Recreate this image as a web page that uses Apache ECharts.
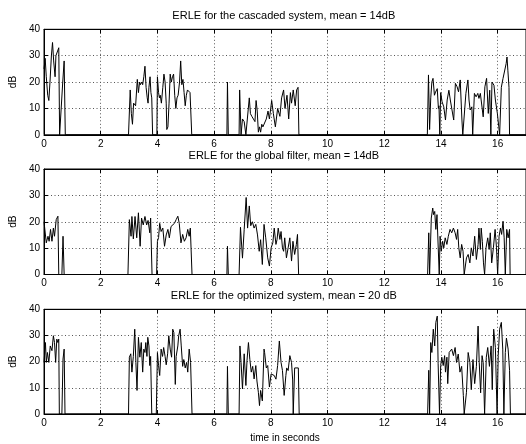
<!DOCTYPE html>
<html>
<head>
<meta charset="utf-8">
<script src="https://cdn.jsdelivr.net/npm/echarts@6/dist/echarts.min.js"></script>
<style>
  html, body { margin: 0; padding: 0; background: #fff; }
  #chart { width: 526px; height: 444px; }
</style>
</head>
<body>
<div id="chart"></div>
<script>
// titles of the three panels
var titles = [
  "ERLE for the cascaded system, mean = 14dB",
  "ERLE for the global filter, mean = 14dB",
  "ERLE for the optimized system, mean = 20 dB"
];

// [time in s, ERLE in dB]
var cascaded = [
  [0,25],[0.04,29],[0.08,22],[0.13,15],[0.17,13],[0.21,20],[0.26,30],[0.30,35],[0.34,28],[0.39,22],
  [0.42,30],[0.46,30],[0.52,33],[0.55,0],[0.62,0],[0.66,20],[0.71,28],[0.75,0],[2.98,0],
  [3.04,17],[3.08,8],[3.12,4],[3.16,12],[3.19,12],[3.23,11],[3.29,21],[3.33,16],[3.37,20],[3.40,19],
  [3.44,20],[3.48,19],[3.52,22],[3.56,26],[3.60,18],[3.64,14],[3.67,12],[3.70,18],[3.74,22],[3.77,16],
  [3.80,14],[3.83,0],[3.98,0],[4.00,22],[4.04,16],[4.07,14],[4.10,15],[4.14,12],[4.19,18],[4.23,23],
  [4.27,20],[4.31,12],[4.33,2],[4.37,3],[4.41,12],[4.45,23],[4.49,20],[4.53,22],[4.57,23],[4.61,15],
  [4.65,10],[4.69,14],[4.73,15],[4.78,20],[4.82,28],[4.86,19],[4.90,21],[4.94,16],[4.98,11],[5.02,15],
  [5.06,17],[5.10,17],[5.15,16],[5.21,0],[6.45,0],[6.47,20],[6.50,0],[6.88,0],[6.90,17],[6.95,0],
  [7.00,6],[7.06,5],[7.12,0],[7.18,0],[7.24,14],[7.28,8],[7.33,7],[7.38,7],[7.44,5],[7.48,13],
  [7.52,9],[7.56,1],[7.60,3],[7.64,1],[7.68,4],[7.72,3],[7.78,3],[7.84,6],[7.90,9],[7.95,6],
  [8.03,13],[8.09,8],[8.16,3],[8.24,10],[8.32,7],[8.38,14],[8.45,17],[8.50,10],[8.57,15],[8.63,6],
  [8.69,16],[8.73,12],[8.79,17],[8.86,11],[8.91,17],[8.96,18],[8.99,0],[13.52,0],
  [13.56,22.7],[13.60,2],[13.64,14],[13.68,20],[13.72,21.4],[13.77,15],[13.81,16.2],[13.87,17.5],[13.91,10],[13.93,11],
  [13.96,0],[13.99,16],[14.04,12.5],[14.10,10.6],[14.16,5.6],[14.22,13.2],[14.28,16.9],[14.33,13.2],[14.39,9.4],[14.45,5.6],
  [14.51,19.5],[14.57,18.2],[14.62,16.3],[14.68,20.8],[14.74,5.6],[14.77,0],[14.83,0],[14.88,15.7],[14.95,20.8],[14.99,13.2],
  [15.03,9.4],[15.09,10.6],[15.12,0],[15.18,15.7],[15.24,14.4],[15.30,15.7],[15.34,13.8],[15.39,15.7],[15.43,15],[15.49,6.8],
  [15.55,18.2],[15.61,21.4],[15.67,8.1],[15.72,16.9],[15.76,0],[15.80,20],[15.87,18.8],[15.92,13.2],[15.99,8.1],[16.04,3],
  [16.07,0],[16.13,18],[16.19,21.4],[16.24,22],[16.30,27],[16.33,29.5],[16.36,24.5],[16.40,18],[16.42,0],[17,0]
];

var globalFilter = [
  [0,20],[0.05,19.5],[0.08,12],[0.14,14.5],[0.18,12.6],[0.23,17.1],[0.28,12.6],[0.33,17.6],[0.37,14.5],[0.43,20.8],
  [0.49,22.1],[0.52,0],[0.63,0],[0.67,14.5],[0.71,0],[2.96,0],
  [3.01,20.8],[3.07,14.5],[3.10,22],[3.15,13.5],[3.21,22],[3.27,13.9],[3.33,23.4],[3.39,10.7],[3.44,21.4],[3.50,18.8],
  [3.56,22],[3.62,18.8],[3.67,20.5],[3.73,15.8],[3.76,21.4],[3.81,0],[3.97,0],
  [4.00,12.6],[4.04,14],[4.08,19.4],[4.13,16.3],[4.19,17.6],[4.25,10.7],[4.31,15],[4.37,17.1],[4.42,13.9],[4.48,18.2],
  [4.54,17.6],[4.60,19.4],[4.66,20.8],[4.72,22.1],[4.77,19.4],[4.83,12],[4.89,15.2],[4.95,12.6],[5.01,13.9],[5.07,17.1],
  [5.12,14.5],[5.16,17.6],[5.22,0],[6.45,0],[6.47,10.7],[6.50,0],[6.88,0],
  [6.93,17.9],[7.00,6.2],[7.06,17],[7.13,29.2],[7.18,17.6],[7.24,26],[7.29,18.5],[7.35,20],[7.41,17.6],[7.47,19],
  [7.53,15],[7.59,8.8],[7.64,13.2],[7.70,3.8],[7.76,19],[7.82,13.9],[7.89,6.3],[7.95,3.2],[8.01,10.1],[8.07,12],
  [8.12,17.6],[8.18,11.4],[8.22,13.3],[8.26,17.6],[8.32,13.3],[8.36,16.3],[8.41,10.1],[8.45,8.8],[8.49,13.9],[8.55,6.3],
  [8.61,10.1],[8.67,13.9],[8.73,5.1],[8.78,12.6],[8.84,7.6],[8.90,11.4],[8.94,15.2],[8.98,0],[13.53,0],
  [13.57,15.8],[13.60,0],[13.66,21.4],[13.71,25.2],[13.74,22.7],[13.78,23.9],[13.82,17.1],[13.86,22.7],[13.90,23],[13.94,0],
  [13.97,14.5],[14.01,8.8],[14.06,12.6],[14.10,10.1],[14.15,13.9],[14.21,11.4],[14.26,14.5],[14.32,17.1],[14.38,15.8],[14.44,17.6],
  [14.50,15.8],[14.55,13.3],[14.59,17.1],[14.63,10.1],[14.68,6.3],[14.73,11.4],[14.78,8.8],[14.82,0],[14.87,0],[14.90,6.3],
  [14.96,7.6],[15.02,4.4],[15.07,10.1],[15.13,7],[15.19,14.5],[15.25,5.7],[15.31,11.4],[15.34,17.6],[15.39,9.5],[15.42,17.6],
  [15.46,12.6],[15.50,4.4],[15.54,0],[15.59,10.1],[15.65,13.9],[15.70,9.5],[15.74,15.8],[15.79,4.4],[15.85,10.1],[15.91,17.1],
  [15.96,10.1],[16.00,0],[16.05,14.5],[16.10,17.6],[16.14,15.2],[16.19,20.2],[16.23,13.9],[16.27,0],[16.32,17.1],[16.37,13.9],
  [16.42,17.1],[16.44,0],[17,0]
];

var optimized = [
  [0,19.7],[0.05,27.3],[0.08,19.7],[0.12,23.5],[0.17,19.7],[0.22,26],[0.28,24.2],[0.33,29.9],[0.37,27.3],[0.41,19.7],
  [0.45,28.6],[0.49,27.3],[0.52,28.6],[0.54,0],[0.63,0],[0.67,21],[0.71,24.8],[0.74,0],[2.98,0],
  [3.01,21.7],[3.06,23],[3.10,16],[3.15,22],[3.20,32.4],[3.24,19.7],[3.28,9],[3.33,29.3],[3.38,21.7],[3.43,27.3],
  [3.48,16],[3.52,24.8],[3.56,23.5],[3.59,27.3],[3.63,22],[3.66,29.3],[3.70,26],[3.73,18.5],[3.76,22],[3.80,0],[3.96,0],
  [4.00,23.5],[4.04,18.5],[4.08,14.7],[4.13,24.8],[4.18,22],[4.22,25.4],[4.27,22],[4.31,18.8],[4.36,23],[4.40,29.9],
  [4.45,24.8],[4.50,21.7],[4.54,32.4],[4.58,31.1],[4.63,11.3],[4.66,22],[4.72,26],[4.75,29.9],[4.80,32.4],[4.84,26],
  [4.89,18.2],[4.93,20.8],[4.98,17.6],[5.03,19.7],[5.07,16],[5.12,24.8],[5.17,19.7],[5.22,0],[6.45,0],[6.47,18.2],
  [6.50,0],[6.88,0],[6.91,26],[6.95,19.7],[7.00,9.6],[7.06,23],[7.12,10.9],[7.16,20.5],[7.21,27.3],[7.26,20.8],
  [7.31,16],[7.36,18.2],[7.41,13.4],[7.47,18.5],[7.51,12.6],[7.56,8.3],[7.60,3.2],[7.64,9],[7.70,5],[7.76,24.8],
  [7.78,23.5],[7.84,17.6],[7.89,18.5],[7.95,10.3],[8.01,15.3],[8.07,16],[8.12,14.7],[8.18,13.3],[8.24,18.5],[8.30,27.9],
  [8.36,19.7],[8.41,16.6],[8.47,7.1],[8.53,14.7],[8.56,17.6],[8.61,16.6],[8.67,22.3],[8.73,19.7],[8.77,13],[8.79,0],
  [8.84,17.6],[8.90,18.2],[8.97,17.6],[9.00,0],[13.53,0],
  [13.57,16.7],[13.60,0],[13.64,27.3],[13.68,23.5],[13.73,32.4],[13.78,26],[13.82,35],[13.87,37.4],[13.90,19.4],[13.95,0],
  [13.99,18.5],[14.03,21.7],[14.08,18.5],[14.13,22.3],[14.16,16],[14.21,21.7],[14.24,11.6],[14.29,23.5],[14.33,24.2],[14.38,24.8],
  [14.44,22.3],[14.50,25.4],[14.55,19.7],[14.61,22.9],[14.67,16],[14.73,18.2],[14.79,7.1],[14.82,0],[14.87,0],[14.90,8.3],
  [14.96,23.5],[15.02,19.7],[15.07,9.3],[15.13,20.8],[15.19,11.6],[15.25,18.2],[15.31,33.6],[15.35,19.7],[15.40,8.1],[15.45,22.3],
  [15.49,19.7],[15.54,0],[15.60,21.7],[15.65,25.4],[15.71,18.2],[15.77,26],[15.81,9.3],[15.86,32.4],[15.92,25.4],[15.98,0],
  [16.02,22.3],[16.07,32.4],[16.13,35],[16.18,24.8],[16.22,0],[16.27,23.5],[16.31,29],[16.37,24.8],[16.42,16.7],[16.45,0],[17,0]
];

var seriesData = [cascaded, globalFilter, optimized];

var gridTops = [29.3, 169, 309.3];
var plotH = 105.5;
var plotLeft = 39.3;
var plotW = 489;

var chart = echarts.init(document.getElementById("chart"), null, { renderer: "canvas" });

var FONT = "Liberation Sans";
var grids = [], xAxes = [], yAxes = [], series = [], graphics = [];

for (var i = 0; i < 3; i++) {
  grids.push({
    left: plotLeft, top: gridTops[i], width: plotW, height: plotH,
    show: true, borderColor: "#000", borderWidth: 1, backgroundColor: "transparent"
  });
  // bottom x axis with labels
  xAxes.push({
    type: "value", gridIndex: i, position: "bottom",
    min: 0, max: 17, interval: 2,
    axisLine: { show: true, onZero: false, lineStyle: { color: "#000", width: 1 } },
    axisTick: { show: true, inside: true, length: 4, lineStyle: { color: "#000" } },
    axisLabel: { show: true, color: "#000", fontSize: 10, fontFamily: FONT, margin: 4, showMaxLabel: false },
    splitLine: { show: true, lineStyle: { color: "#555", width: 1, type: [1, 2.5] } },
    name: i === 2 ? "time in seconds" : "",
    nameLocation: "middle", nameGap: 19,
    nameTextStyle: { color: "#000", fontSize: 10, fontFamily: FONT }
  });
  yAxes.push({
    type: "value", gridIndex: i, position: "left",
    min: 0, max: 40, interval: 10,
    axisLine: { show: true, onZero: false, lineStyle: { color: "#000", width: 1 } },
    axisTick: { show: true, inside: true, length: 4, lineStyle: { color: "#000" } },
    axisLabel: { show: true, color: "#000", fontSize: 10, fontFamily: FONT, margin: 4 },
    splitLine: { show: true, lineStyle: { color: "#555", width: 1, type: [1, 2.5] } },
    name: "dB", nameLocation: "middle", nameRotate: 90, nameGap: 12,
    nameTextStyle: { color: "#000", fontSize: 10, fontFamily: FONT }
  });
  series.push({
    type: "line", xAxisIndex: i, yAxisIndex: i,
    data: seriesData[i], showSymbol: false, symbol: "none",
    lineStyle: { color: "#000", width: 1 },
    animation: false, z: 3
  });
  graphics.push({
    type: "text",
    x: plotLeft + plotW / 2, y: gridTops[i] - 13.5,
    style: { text: titles[i], fill: "#000", font: "11px " + FONT, align: "center", verticalAlign: "middle" }
  });
}
// top axes: only inward ticks, like the original frame
for (var j = 0; j < 3; j++) {
  xAxes.push({
    type: "value", gridIndex: j, position: "top",
    min: 0, max: 17, interval: 2,
    axisLine: { show: true, onZero: false, lineStyle: { color: "#000", width: 1 } },
    axisTick: { show: true, inside: true, length: 4, lineStyle: { color: "#000" } },
    axisLabel: { show: false },
    splitLine: { show: false }
  });
}

chart.setOption({
  animation: false,
  backgroundColor: "#fff",
  grid: grids,
  xAxis: xAxes,
  yAxis: yAxes,
  series: series,
  graphic: graphics
});
</script>
</body>
</html>
